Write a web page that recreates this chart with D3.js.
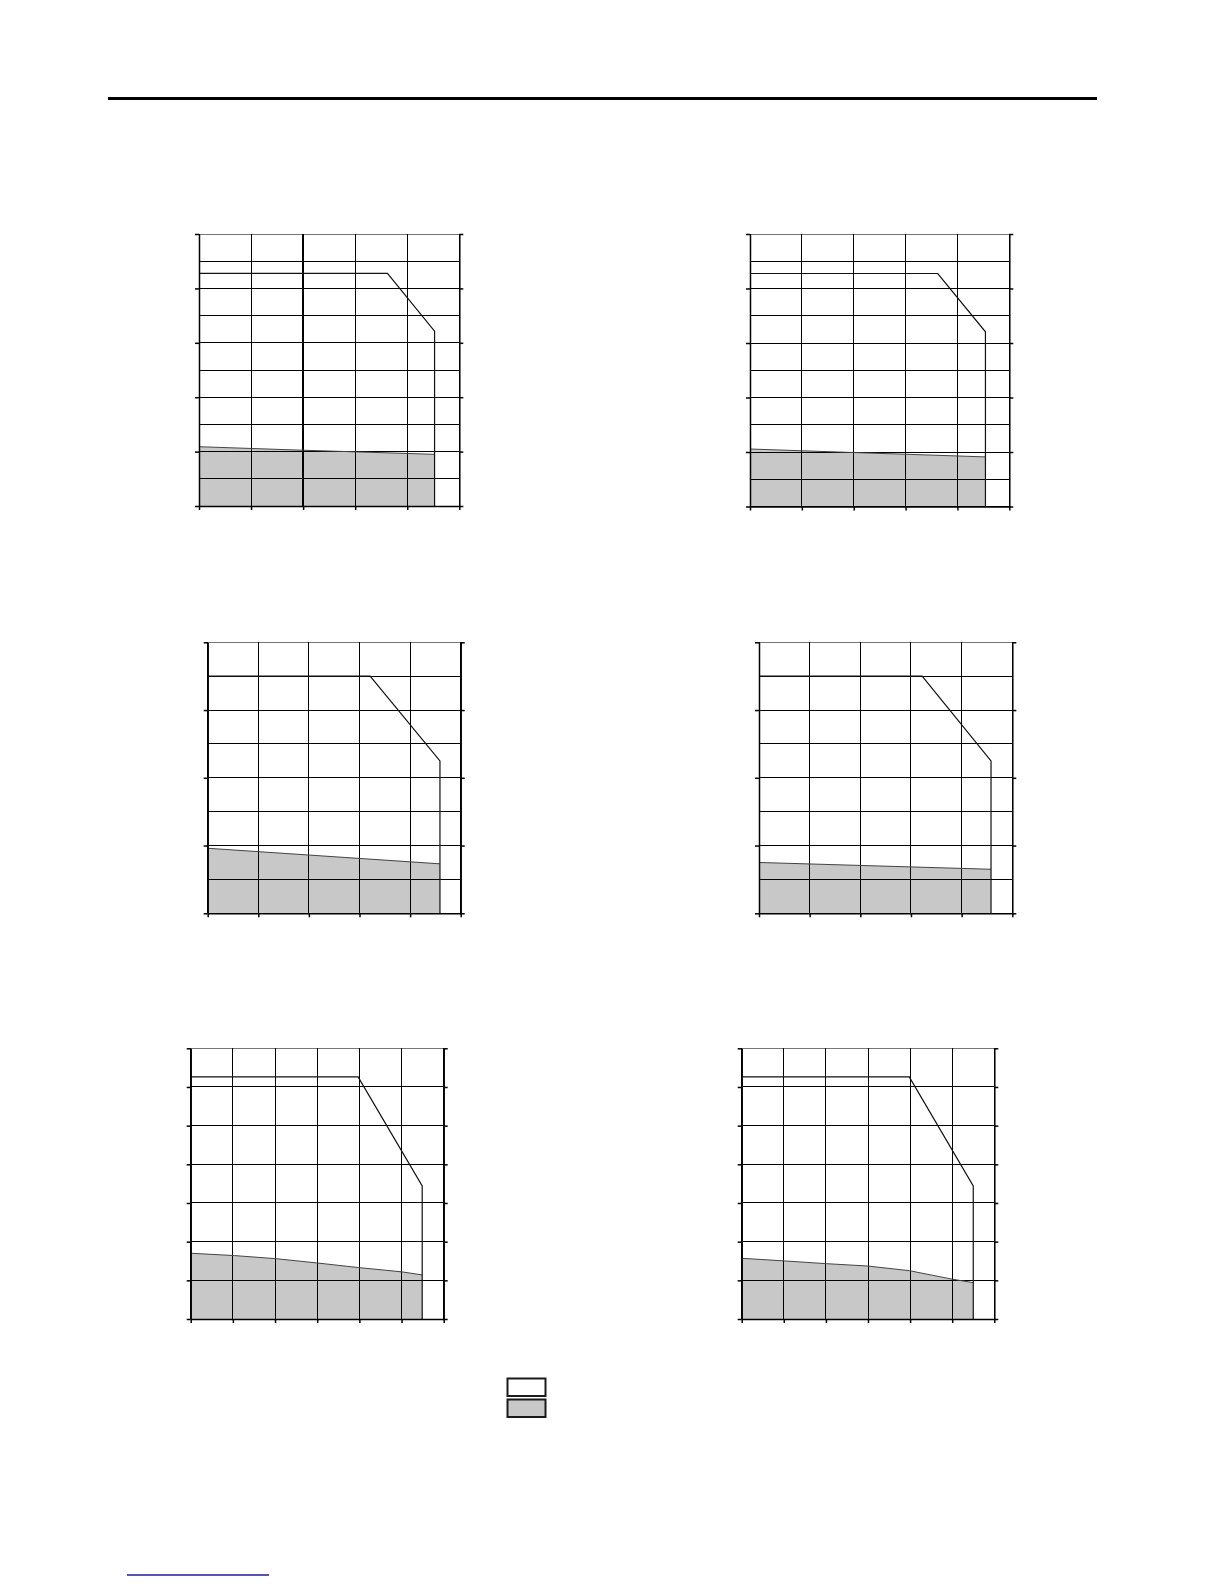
<!DOCTYPE html>
<html>
<head>
<meta charset="utf-8">
<script src="https://cdn.jsdelivr.net/npm/d3@7"></script>
<style>
  html, body { margin: 0; padding: 0; background: #fff; }
  svg { display: block; }
</style>
</head>
<body>
<script>
// ---------- DATA ----------
// Charts 1 & 2: x 0..50, y 0..100
const xTicksA = [0, 10, 20, 30, 40, 50];
const yGridA = [0, 10, 20, 30, 40, 50, 60, 70, 80, 90, 100];
const yMajorA = [0, 20, 40, 60, 80, 100];

// Charts 3 & 4: x 0..50, y 0..80
const xTicksB = [0, 10, 20, 30, 40, 50];
const yGridB = [0, 10, 20, 30, 40, 50, 60, 70, 80];
const yMajorB = [0, 20, 40, 60, 80];

// Charts 5 & 6: x 0..60, y 0..70
const xTicksC = [0, 10, 20, 30, 40, 50, 60];
const yGridC = [0, 10, 20, 30, 40, 50, 60, 70];
const yMajorC = [0, 10, 20, 30, 40, 50, 60, 70];

// Limit (outline) curves
const limit1X = [0, 36.2, 45.25, 45.25];
const limit1Y = [85.5, 85.5, 64.3, 0];
const limit2X = [0, 36.2, 45.4, 45.4];
const limit2Y = [85.5, 85.5, 64.1, 0];
const limit3X = [0, 32.1, 45.9, 45.9];
const limit3Y = [70, 70, 45, 0];
const limit4X = [0, 32.2, 45.8, 45.8];
const limit4Y = [70, 70, 45, 0];
const limit5X = [0, 39.7, 54.9, 54.9];
const limit5Y = [62.6, 62.6, 34.4, 0];
const limit6X = [0, 39.8, 55.0, 55.0];
const limit6Y = [62.6, 62.6, 34.4, 0];

// Shaded (continuous) areas
const area1X = [0, 20, 45.25];
const area1Y = [21.8, 20.5, 19.0];
const area2X = [0, 20, 45.4];
const area2Y = [21.1, 19.8, 18.2];
const area3X = [0, 45.9];
const area3Y = [19.2, 14.6];
const area4X = [0, 45.8];
const area4Y = [15.0, 13.0];
const area5X = [0, 10.4, 20.2, 29.9, 39.8, 50, 54.9];
const area5Y = [17.0, 16.4, 15.6, 14.5, 13.3, 12.2, 11.4];
const area6X = [0, 10.4, 20.2, 29.9, 39.8, 50, 55.0];
const area6Y = [15.7, 15.0, 14.3, 13.7, 12.5, 10.3, 9.4];

// ---------- LAYOUT ----------
const frames = [
  { l: 199,   r: 459.3,  t: 234,    b: 506 },
  { l: 750,   r: 1009.3, t: 234,    b: 506.5 },
  { l: 207.7, r: 460.7,  t: 642.3,  b: 913.3 },
  { l: 759,   r: 1012.3, t: 642.3,  b: 913.3 },
  { l: 190.7, r: 443.7,  t: 1048.3, b: 1319 },
  { l: 741.7, r: 994.3,  t: 1048.3, b: 1319 }
];

const charts = [
  { xt: xTicksA, yg: yGridA, ym: yMajorA, lx: limit1X, ly: limit1Y, ax: area1X, ay: area1Y, bold: 20 },
  { xt: xTicksA, yg: yGridA, ym: yMajorA, lx: limit2X, ly: limit2Y, ax: area2X, ay: area2Y },
  { xt: xTicksB, yg: yGridB, ym: yMajorB, lx: limit3X, ly: limit3Y, ax: area3X, ay: area3Y },
  { xt: xTicksB, yg: yGridB, ym: yMajorB, lx: limit4X, ly: limit4Y, ax: area4X, ay: area4Y },
  { xt: xTicksC, yg: yGridC, ym: yMajorC, lx: limit5X, ly: limit5Y, ax: area5X, ay: area5Y },
  { xt: xTicksC, yg: yGridC, ym: yMajorC, lx: limit6X, ly: limit6Y, ax: area6X, ay: area6Y }
];

const svg = d3.select("body").append("svg")
  .attr("width", 1224).attr("height", 1584)
  .attr("viewBox", "0 0 1224 1584");

// Top rule
svg.append("line")
  .attr("x1", 108).attr("x2", 1097)
  .attr("y1", 98.5).attr("y2", 98.5)
  .attr("stroke", "#000").attr("stroke-width", 3);

charts.forEach((c, i) => {
  const f = frames[i];
  const x = d3.scaleLinear().domain([c.xt[0], c.xt[c.xt.length - 1]]).range([f.l, f.r]);
  const y = d3.scaleLinear().domain([c.yg[0], c.yg[c.yg.length - 1]]).range([f.b, f.t]);
  const g = svg.append("g");

  // shaded area
  const areaPts = c.ax.map((v, k) => [v, c.ay[k]]);
  g.append("path")
    .datum(areaPts)
    .attr("d", d3.area().x(d => x(d[0])).y0(y(0)).y1(d => y(d[1])))
    .attr("fill", "#c8c8c8").attr("stroke", "none");

  // grid
  g.selectAll(".hg").data(c.yg).join("line")
    .attr("x1", f.l).attr("x2", f.r)
    .attr("y1", d => y(d)).attr("y2", d => y(d))
    .attr("stroke", (d, k) => k === c.yg.length - 1 ? "#777" : "#000")
    .attr("stroke-width", 1)
    .attr("shape-rendering", "crispEdges");
  g.selectAll(".vg").data(c.xt).join("line")
    .attr("x1", d => x(d)).attr("x2", d => x(d))
    .attr("y1", f.t).attr("y2", f.b)
    .attr("stroke", "#000")
    .attr("stroke-width", d => (c.bold !== undefined && d === c.bold) ? 2 : 1)
    .attr("shape-rendering", "crispEdges");

  // top edge of shaded area
  g.append("path")
    .datum(areaPts)
    .attr("d", d3.line().x(d => x(d[0])).y(d => y(d[1])))
    .attr("fill", "none").attr("stroke", "#444").attr("stroke-width", 1);

  // limit curve
  const limPts = c.lx.map((v, k) => [v, c.ly[k]]);
  g.append("path")
    .datum(limPts)
    .attr("d", d3.line().x(d => x(d[0])).y(d => y(d[1])))
    .attr("fill", "none").attr("stroke", "#111").attr("stroke-width", 1.2);

  // axes (no labels)
  const left = d3.axisLeft(y).tickValues(c.ym).tickSize(4).tickSizeOuter(0).tickFormat("");
  const right = d3.axisRight(y).tickValues(c.ym).tickSize(4).tickSizeOuter(0).tickFormat("");
  const bottom = d3.axisBottom(x).tickValues(c.xt).tickSize(4).tickSizeOuter(0).tickFormat("");

  const la = g.append("g").attr("transform", `translate(${f.l},0)`).call(left);
  const ra = g.append("g").attr("transform", `translate(${f.r},0)`).call(right);
  const ba = g.append("g").attr("transform", `translate(0,${f.b})`).call(bottom);
  [la, ra, ba].forEach(a => {
    a.selectAll("line").attr("stroke", "#000").attr("stroke-width", 1.5);
    a.select(".domain").attr("stroke", "#000").attr("stroke-width", 1.5);
  });
});

// Legend boxes
const legendFills = ["#ffffff", "#c8c8c8"];
svg.selectAll(".leg").data(legendFills).join("rect")
  .attr("x", 507.5).attr("y", (d, k) => 1378.5 + k * 21)
  .attr("width", 38).attr("height", 17.5)
  .attr("fill", d => d).attr("stroke", "#1a1a1a").attr("stroke-width", 2);

// Bottom link underline
svg.append("line")
  .attr("x1", 127).attr("x2", 269)
  .attr("y1", 1575).attr("y2", 1575)
  .attr("stroke", "#1c1c9a").attr("stroke-width", 1.5);
</script>
</body>
</html>
